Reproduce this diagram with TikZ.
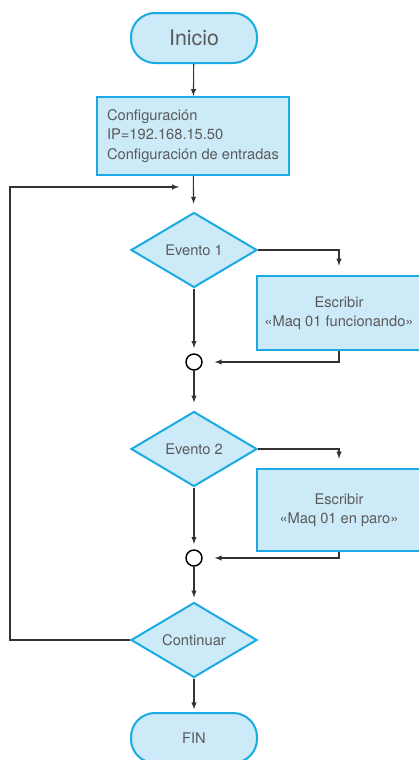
\documentclass[tikz,border=0pt]{standalone}
\usepackage{fontspec}
\setmainfont{TeX Gyre Heros}
\usepackage{tikz}
\usetikzlibrary{shapes.geometric}
\usetikzlibrary{positioning}
\usetikzlibrary{arrows}
\definecolor{celeste}{HTML}{CDEAF8}
\definecolor{azul}{HTML}{1AAAE4}
\definecolor{texto}{HTML}{5A5A5A}
\definecolor{linea}{HTML}{333333}
\tikzset{my_flow/.style={->,>=latex,line width=0.8pt}}
\tikzset{my_terminal/.style={rectangle, rounded corners=18pt, draw=azul, fill=celeste, line width=1.5pt, minimum width=94.5pt, minimum height=37.5pt, text=texto, font=\fontsize{11}{13}\selectfont}}
\tikzset{my_proceso/.style={rectangle, draw=azul, fill=celeste, line width=1.5pt, text=texto, font=\fontsize{11}{14.6}\selectfont}}
\tikzset{my_decision/.style={diamond, draw=azul, fill=celeste, line width=1.5pt, minimum width=94.5pt, minimum height=56.25pt, inner sep=0pt, text=texto, font=\fontsize{11}{13}\selectfont}}
\tikzset{my_union/.style={circle, draw=black, line width=1.1pt, fill=white, minimum size=12pt, inner sep=0pt}}

\begin{document}
\begin{tikzpicture}[my_flow, x=0.75pt, y=-0.75pt]
    %\draw[help lines] (0,0) grid[step=20] (418,760);
    \useasboundingbox (0,0) rectangle (418,760);
    \node[my_terminal, font=\fontsize{16}{18}\selectfont] (inicio) at (194,38) {Inicio};
    \node[my_proceso, align=left, minimum width=144pt, minimum height=58.5pt] (config) at (193,136)
        {Configuración\\IP=192.168.15.50\\Configuración de entradas};
    \node[my_decision] (evento1) at (194,250) {Evento 1};
    \node[my_proceso, align=center, minimum width=123pt, minimum height=55.5pt] (escribir1) at (339,313)
        {Escribir\\«Maq 01 funcionando»};
    \node[my_union] (union1) at (194,362) {};
    \node[my_decision] (evento2) at (194,449) {Evento 2};
    \node[my_proceso, align=center, minimum width=123pt, minimum height=61.5pt] (escribir2) at (339,510)
        {Escribir\\«Maq 01 en paro»};
    \node[my_union] (union2) at (194,558) {};
    \node[my_decision] (continuar) at (194,640) {Continuar};
    \node[my_terminal] (fin) at (194,738) {FIN};
    \coordinate (retorno) at (10,187);
    \coordinate (entrada) at (179,187);

    \draw[linea] (inicio) -- (config);
    \draw[linea, shorten >=6pt] (config) -- (evento1);
    \draw[linea, shorten >=7pt] (evento1.east) -| (escribir1);
    \draw[linea, shorten >=4pt] (evento1) -- (union1);
    \draw[linea, shorten >=9pt] (escribir1) |- (union1);
    \draw[linea, shorten >=6pt] (union1) -- (evento2);
    \draw[linea, shorten >=7pt] (evento2.east) -| (escribir2);
    \draw[linea, shorten >=4pt] (evento2) -- (union2);
    \draw[linea, shorten >=9pt] (escribir2) |- (union2);
    \draw[linea, shorten >=3pt] (union2) -- (continuar);
    \draw[linea, shorten >=2pt] (continuar) -- (fin);
    \draw[linea] (continuar.west) -| (retorno) -- (entrada);
\end{tikzpicture}
\end{document}
